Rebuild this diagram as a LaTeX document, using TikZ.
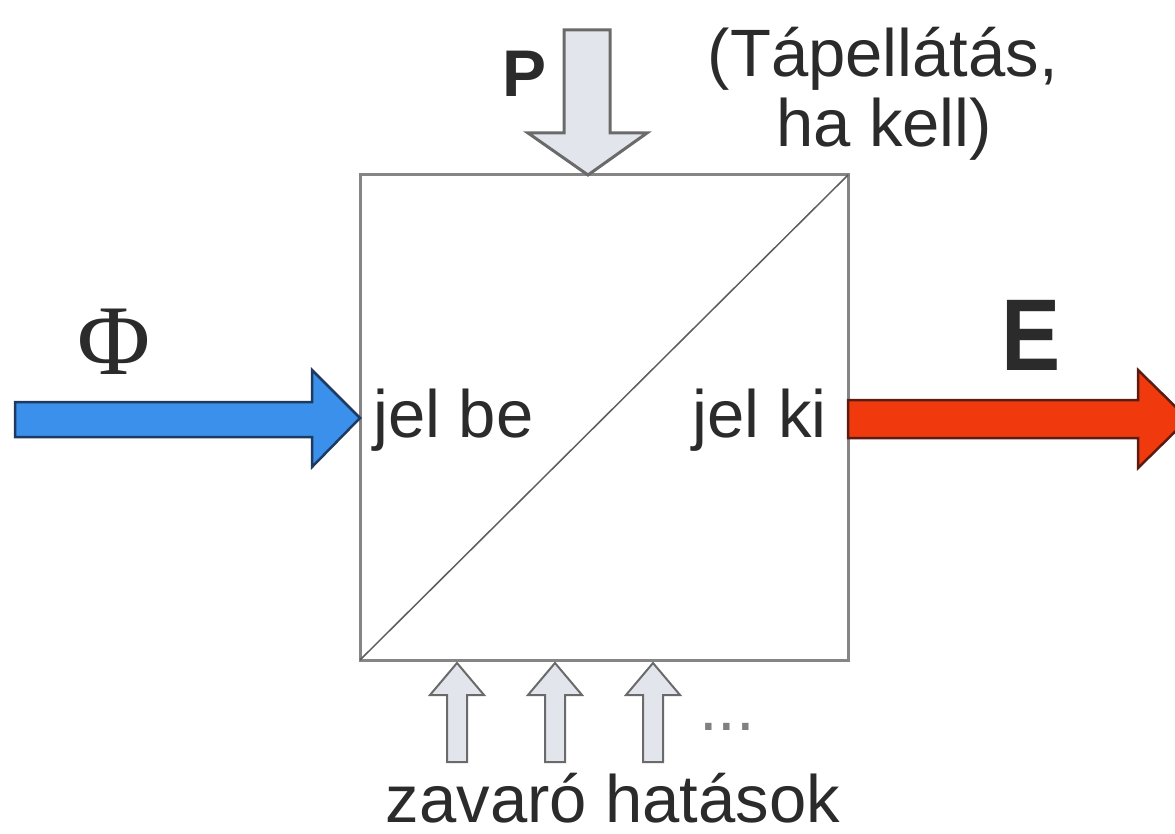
\documentclass[tikz,border=0pt]{standalone}
\usepackage{fontspec}
\setmainfont{Liberation Sans}
\newfontfamily\serifphi{Liberation Serif}
\definecolor{txt}{HTML}{2B2B2B}
\definecolor{boxline}{HTML}{858585}
\definecolor{blueFill}{HTML}{3A90EA}
\definecolor{blueLine}{HTML}{1E3A60}
\definecolor{redFill}{HTML}{F03A0E}
\definecolor{redLine}{HTML}{5A1C12}
\definecolor{pFill}{HTML}{E2E6EC}
\definecolor{pLine}{HTML}{6A6A6A}
\tikzset{
  lbl/.style={inner sep=0pt, text=txt, font=\fontsize{67}{80}\selectfont},
  fatarrow/.style={line width=2.5pt, line join=miter},
  smallarrow/.style={fill=pFill, draw=pLine, line width=2pt, line join=miter}
}
\begin{document}
\begin{tikzpicture}[x=1pt,y=-1pt]
\useasboundingbox (0,0) rectangle (1175,834);
% box
\coordinate (tl) at (360,175);
\coordinate (br) at (848,660);
\coordinate (bl) at (360,660);
\coordinate (tr) at (848,175);
\draw[boxline, line width=3pt] (tl) rectangle (br);
\draw[boxline!70!black, line width=1.5pt] (bl) -- (tr);
% input arrow (blue)
\draw[fatarrow, fill=blueFill, draw=blueLine]
  (15,402) -- (312,402) -- (312,370) -- (360,418) -- (312,467) -- (312,437) -- (15,437) -- cycle;
% output arrow (red), cut by the right edge
\begin{scope}
\clip (0,0) rectangle (1175,834);
\draw[fatarrow, fill=redFill, draw=redLine]
  (848,400) -- (1138,400) -- (1138,370) -- (1188,419) -- (1138,468) -- (1138,438) -- (848,438) -- cycle;
\end{scope}
% power arrow
\draw[fill=pFill, draw=pLine, line width=3pt, line join=miter]
  (564,30) -- (610,30) -- (610,133) -- (647,133) -- (588,175) -- (528,133) -- (564,133) -- cycle;
% disturbance arrows
\foreach \xx in {457,555,653}{
  \draw[smallarrow]
    (\xx-10,762) -- (\xx-10,695) -- (\xx-27,695) -- (\xx,663) -- (\xx+27,695) -- (\xx+10,695) -- (\xx+10,762) -- cycle;
}
% labels
\node[lbl, anchor=base west] (jb) at (373,437) {jel be};
\node[lbl, anchor=base east] (jk) at (827,437) {jel ki};
\node[lbl, anchor=base] (zh) at (613,822) {zavaró hatások};
\node[lbl, anchor=base, text=gray] (dots) at (727,730) {...};
\node[lbl, anchor=base] (tap1) at (883,77) {(Tápellátás,};
\node[lbl, anchor=base] (tap2) at (884,147) {ha kell)};
\node[lbl, anchor=base west, font=\fontsize{66}{70}\selectfont\bfseries] (P) at (502,97) {P};
\node[lbl, anchor=base, font=\fontsize{102}{110}\selectfont\bfseries, xscale=0.87] (E) at (1031,370) {E};
\node[lbl, anchor=base, font=\fontsize{100}{110}\serifphi] (Phi) at (114,374) {Φ};
\end{tikzpicture}
\end{document}
